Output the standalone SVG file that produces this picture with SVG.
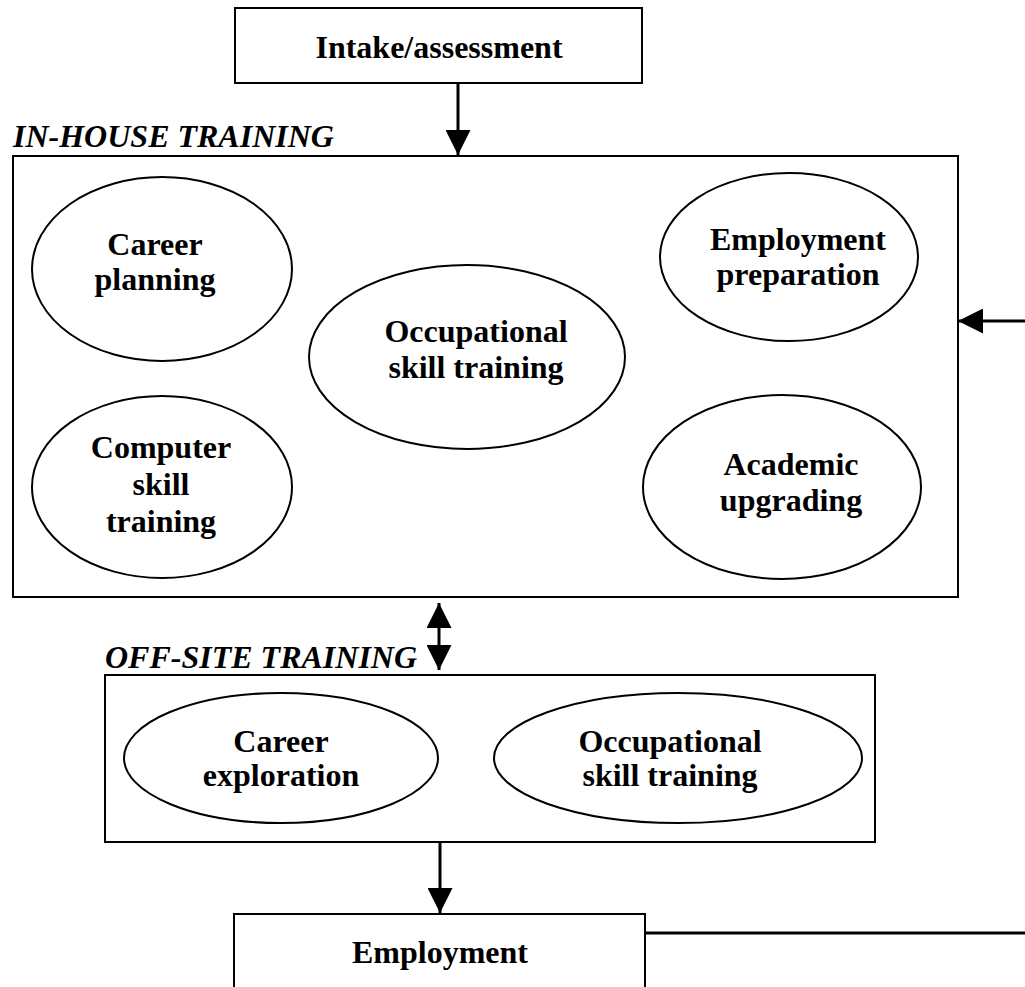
<svg xmlns="http://www.w3.org/2000/svg" width="1025" height="987" viewBox="0 0 1025 987">
  <style>
    .box { fill: #fff; stroke: #000; stroke-width: 2; }
    .oval { fill: #fff; stroke: #000; stroke-width: 2; }
    .lbl { font-family: "Liberation Serif", "Times New Roman", serif; font-weight: bold; font-size: 32px; fill: #000; text-anchor: middle; }
    .sec { font-family: "Liberation Serif", "Times New Roman", serif; font-weight: bold; font-style: italic; font-size: 32px; fill: #000; }
    .wire { fill: none; stroke: #000; stroke-width: 3; }
  </style>
  <defs>
    <marker id="head" viewBox="0 0 10 10" refX="10" refY="5" markerWidth="25" markerHeight="25" markerUnits="userSpaceOnUse" orient="auto-start-reverse">
      <path d="M0,0 L10,5 L0,10 Z" fill="#000"/>
    </marker>
  </defs>

  <!-- section captions -->
  <text class="sec" x="13" y="147">IN-HOUSE TRAINING</text>
  <text class="sec" x="105" y="668">OFF-SITE TRAINING</text>

  <g id="intake">
    <rect class="box" x="235" y="8" width="407" height="75"/>
    <text class="lbl" x="439" y="58">Intake/assessment</text>
  </g>

  <g id="in-house">
    <rect class="box" x="13" y="156" width="945" height="441"/>
  </g>

  <g id="career-planning">
    <ellipse class="oval" cx="162" cy="269" rx="130" ry="92"/>
    <text class="lbl" x="155" y="255">Career</text>
    <text class="lbl" x="155" y="290">planning</text>
  </g>

  <g id="computer-skill">
    <ellipse class="oval" cx="162" cy="487" rx="130" ry="91"/>
    <text class="lbl" x="161" y="458">Computer</text>
    <text class="lbl" x="161" y="495">skill</text>
    <text class="lbl" x="161" y="532">training</text>
  </g>

  <g id="occupational-in">
    <ellipse class="oval" cx="467" cy="357" rx="158" ry="92"/>
    <text class="lbl" x="476" y="342">Occupational</text>
    <text class="lbl" x="476" y="378">skill training</text>
  </g>

  <g id="employment-prep">
    <ellipse class="oval" cx="789" cy="257" rx="129" ry="84"/>
    <text class="lbl" x="798" y="250">Employment</text>
    <text class="lbl" x="798" y="285">preparation</text>
  </g>

  <g id="academic">
    <ellipse class="oval" cx="782" cy="487" rx="139" ry="92"/>
    <text class="lbl" x="791" y="475">Academic</text>
    <text class="lbl" x="791" y="511">upgrading</text>
  </g>

  <g id="off-site">
    <rect class="box" x="105" y="675" width="770" height="167"/>
  </g>

  <g id="career-exploration">
    <ellipse class="oval" cx="281" cy="758" rx="157" ry="65"/>
    <text class="lbl" x="281" y="752">Career</text>
    <text class="lbl" x="281" y="786">exploration</text>
  </g>

  <g id="occupational-off">
    <ellipse class="oval" cx="678" cy="758" rx="184" ry="65"/>
    <text class="lbl" x="670" y="752">Occupational</text>
    <text class="lbl" x="670" y="786">skill training</text>
  </g>

  <g id="employment">
    <rect class="box" x="234" y="914" width="411" height="80"/>
    <text class="lbl" x="440" y="963">Employment</text>
  </g>

  <g id="connectors">
    <line class="wire" x1="458" y1="83" x2="458" y2="155" marker-end="url(#head)"/>
    <line class="wire" x1="1025" y1="321" x2="958" y2="321" marker-end="url(#head)"/>
    <line class="wire" x1="439" y1="603" x2="439" y2="670" marker-start="url(#head)" marker-end="url(#head)"/>
    <line class="wire" x1="440" y1="842" x2="440" y2="913" marker-end="url(#head)"/>
    <line class="wire" x1="645" y1="933" x2="1025" y2="933"/>
  </g>
</svg>
